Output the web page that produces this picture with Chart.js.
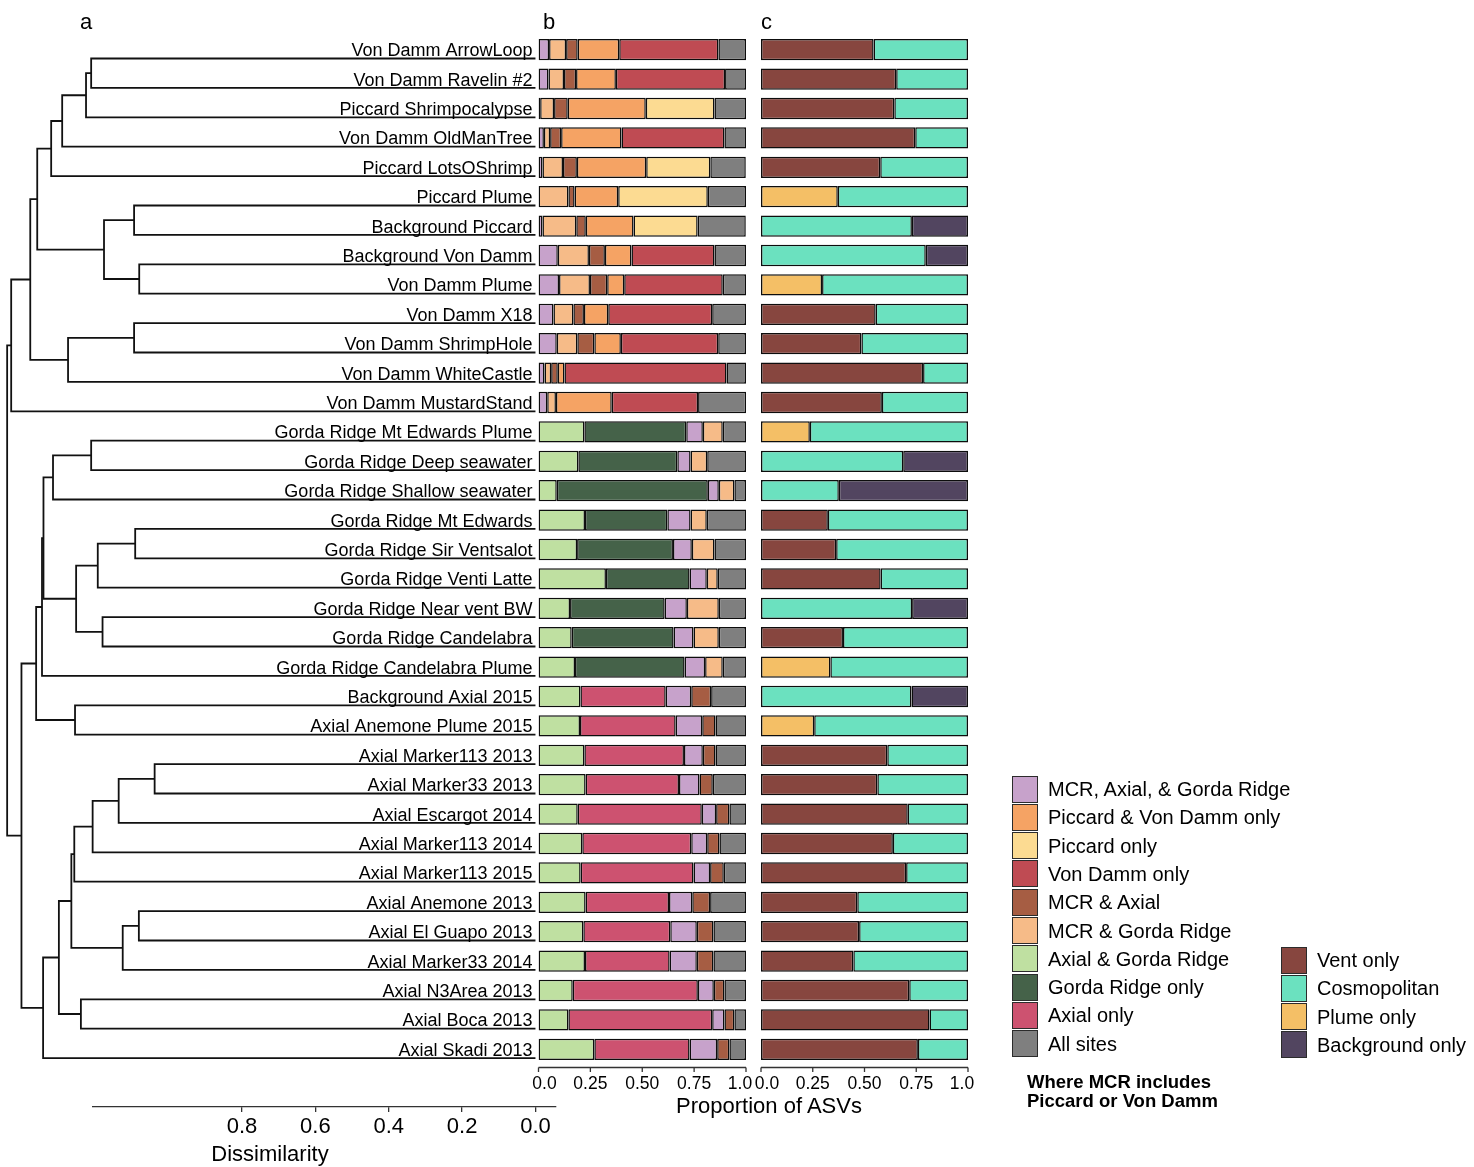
<!DOCTYPE html>
<html>
<head>
<meta charset="utf-8">
<script src="https://cdn.jsdelivr.net/npm/chart.js"></script>
<style>
  body { margin: 0; background: #fff; }
  #fig { position: relative; width: 1474px; height: 1167px; overflow: hidden;
         font-family: 'Liberation Sans', Arial, Helvetica, sans-serif; color: #000; }
  #fig canvas { position: absolute; left: 0; top: 0; }
  .txt { position: absolute; white-space: nowrap; }
  .key { position: absolute; width: 26px; height: 27px; box-sizing: border-box; border: 1.5px solid #2b2b2b; }
</style>
</head>
<body>
<div id="fig">
  <canvas id="treeChart" width="1474" height="1167" style="width:1474px;height:1167px"></canvas>
  <canvas id="sharedChart" width="1474" height="1167" style="width:1474px;height:1167px"></canvas>
  <canvas id="habitatChart" width="1474" height="1167" style="width:1474px;height:1167px"></canvas>
</div>
<script>
// sample order, top to bottom (same as dendrogram leaves)
const sites = [
  'Von Damm ArrowLoop', 'Von Damm Ravelin #2', 'Piccard Shrimpocalypse', 'Von Damm OldManTree',
  'Piccard LotsOShrimp', 'Piccard Plume', 'Background Piccard', 'Background Von Damm',
  'Von Damm Plume', 'Von Damm X18', 'Von Damm ShrimpHole', 'Von Damm WhiteCastle',
  'Von Damm MustardStand', 'Gorda Ridge Mt Edwards Plume', 'Gorda Ridge Deep seawater',
  'Gorda Ridge Shallow seawater', 'Gorda Ridge Mt Edwards', 'Gorda Ridge Sir Ventsalot',
  'Gorda Ridge Venti Latte', 'Gorda Ridge Near vent BW', 'Gorda Ridge Candelabra',
  'Gorda Ridge Candelabra Plume', 'Background Axial 2015', 'Axial Anemone Plume 2015',
  'Axial Marker113 2013', 'Axial Marker33 2013', 'Axial Escargot 2014', 'Axial Marker113 2014',
  'Axial Marker113 2015', 'Axial Anemone 2013', 'Axial El Guapo 2013', 'Axial Marker33 2014',
  'Axial N3Area 2013', 'Axial Boca 2013', 'Axial Skadi 2013'
];

// panel b: proportion of ASVs per category (one value per site)
const axialGorda = [0,0,0,0,0,0,0,0,0,0,0,0,0,
  0.221,0.192,0.088,0.224,0.186,0.325,0.152,0.160,0.176,
  0.202,0.200,0.221,0.227,0.189,0.211,0.203,0.227,0.216,0.224,0.165,0.144,0.269];
const gordaOnly = [0,0,0,0,0,0,0,0,0,0,0,0,0,
  0.491,0.477,0.728,0.397,0.462,0.403,0.456,0.491,0.528,
  0,0,0,0,0,0,0,0,0,0,0,0,0];
const axialOnly = [0,0,0,0,0,0,0,0,0,0,0,0,0,
  0,0,0,0,0,0,0,0,0,
  0.411,0.461,0.480,0.450,0.598,0.525,0.544,0.402,0.419,0.408,0.603,0.693,0.459];
const mcrAxialGorda = [0.051,0.048,0.008,0.026,0.019,0,0.019,0.093,0.099,0.072,0.088,0.029,0.042,
  0.080,0.064,0.053,0.112,0.091,0.083,0.107,0.096,0.099,
  0.123,0.128,0.091,0.099,0.069,0.077,0.080,0.112,0.128,0.131,0.077,0.059,0.133];
const mcrGorda = [0.082,0.075,0.067,0.030,0.099,0.144,0.163,0.150,0.149,0.096,0.099,0.032,0.042,
  0.096,0.080,0.075,0.078,0.109,0.053,0.154,0.122,0.085,
  0,0,0,0,0,0,0,0,0,0,0,0,0];
const mcrAxial = [0.056,0.058,0.066,0.053,0.067,0.030,0.046,0.077,0.083,0.051,0.082,0.032,0,
  0,0,0,0,0,0,0,0,0,
  0.096,0.064,0.061,0.064,0.064,0.059,0.066,0.086,0.080,0.080,0.051,0.048,0.059];
const piccardVonDamm = [0.200,0.192,0.376,0.291,0.334,0.210,0.230,0.128,0.082,0.117,0.128,0.032,0.269,
  0,0,0,0,0,0,0,0,0,
  0,0,0,0,0,0,0,0,0,0,0,0,0];
const piccardOnly = [0,0,0.331,0,0.309,0.432,0.309,0,0,0,0,0,0,
  0,0,0,0,0,0,0,0,0,
  0,0,0,0,0,0,0,0,0,0,0,0,0];
const vonDammOnly = [0.478,0.526,0,0.496,0,0,0,0.400,0.475,0.501,0.469,0.781,0.416,
  0,0,0,0,0,0,0,0,0,
  0,0,0,0,0,0,0,0,0,0,0,0,0];
const allSites = [0.133,0.101,0.152,0.104,0.171,0.184,0.232,0.152,0.112,0.163,0.134,0.094,0.232,
  0.112,0.187,0.056,0.189,0.152,0.136,0.131,0.131,0.112,
  0.168,0.147,0.147,0.160,0.080,0.128,0.107,0.173,0.157,0.157,0.104,0.056,0.080];

// panel c: habitat distribution
const ventOnly = [0.544,0.653,0.644,0.745,0.576,0,0,0,0,0.554,0.485,0.783,0.584,
  0,0,0,0.323,0.363,0.578,0,0.396,0,
  0,0,0.610,0.562,0.709,0.637,0.701,0.465,0.474,0.446,0.716,0.814,0.758];
const plumeOnly = [0,0,0,0,0,0.371,0,0,0.295,0,0,0,0,
  0.236,0,0,0,0,0,0,0,0.335,
  0,0.257,0,0,0,0,0,0,0,0,0,0,0];
const cosmopolitan = [0.456,0.347,0.356,0.255,0.424,0.629,0.729,0.796,0.705,0.446,0.515,0.217,0.416,
  0.764,0.687,0.376,0.677,0.637,0.422,0.730,0.604,0.665,
  0.727,0.743,0.390,0.438,0.291,0.363,0.299,0.535,0.526,0.554,0.284,0.186,0.242];
const backgroundOnly = [0,0,0,0,0,0,0.271,0.204,0,0,0,0,0,
  0,0.313,0.624,0,0,0,0.270,0,0,
  0.273,0,0,0,0,0,0,0,0,0,0,0,0];

// dendrogram: hclust style merges (negative = leaf number, positive = earlier merge)
const treeMerges = [
  [-1,-2], [1,-3], [2,-4], [3,-5], [-6,-7], [-8,-9], [5,6], [4,7], [-10,-11], [9,-12],
  [8,10], [11,-13], [-14,-15], [13,-16], [-17,-18], [15,-19], [-20,-21], [16,17], [14,18], [19,-22],
  [-23,-24], [20,21], [-25,-26], [23,-27], [24,-28], [25,-29], [-30,-31], [27,-32], [26,28], [-33,-34],
  [29,30], [31,-35], [22,32], [12,33]
];
const treeHeights = [
  1.211, 1.225, 1.290, 1.320, 1.094, 1.080, 1.176, 1.358, 1.094, 1.274,
  1.377, 1.429, 1.211, 1.315, 1.091, 1.193, 1.180, 1.252, 1.341, 1.345,
  1.255, 1.361, 1.038, 1.136, 1.207, 1.257, 1.081, 1.125, 1.265, 1.239,
  1.299, 1.342, 1.401, 1.440
];

const dissTicks = [0, 0.2, 0.4, 0.6, 0.8];
const propTicks = [0, 0.25, 0.5, 0.75, 1];
const propTickLabels = ['0.0', '0.25', '0.50', '0.75', '1.0'];

const sharedLegend = ['MCR, Axial, & Gorda Ridge', 'Piccard & Von Damm only', 'Piccard only', 'Von Damm only',
  'MCR & Axial', 'MCR & Gorda Ridge', 'Axial & Gorda Ridge', 'Gorda Ridge only', 'Axial only', 'All sites'];
const habitatLegend = ['Vent only', 'Cosmopolitan', 'Plume only', 'Background only'];

const palette = {
  'MCR, Axial, & Gorda Ridge': '#c7a2cb',
  'Piccard & Von Damm only': '#f5a364',
  'Piccard only': '#fcdb92',
  'Von Damm only': '#bf4b53',
  'MCR & Axial': '#a65d43',
  'MCR & Gorda Ridge': '#f6bb88',
  'Axial & Gorda Ridge': '#bfe0a1',
  'Gorda Ridge only': '#456249',
  'Axial only': '#cd5270',
  'All sites': '#7f7f7f',
  'Vent only': '#87463f',
  'Cosmopolitan': '#6be1bf',
  'Plume only': '#f4bf66',
  'Background only': '#524560'
};

// left to right stacking order
const sharedSeries = [
  ['Axial & Gorda Ridge', axialGorda], ['Gorda Ridge only', gordaOnly], ['Axial only', axialOnly],
  ['MCR, Axial, & Gorda Ridge', mcrAxialGorda], ['MCR & Gorda Ridge', mcrGorda], ['MCR & Axial', mcrAxial],
  ['Piccard & Von Damm only', piccardVonDamm], ['Piccard only', piccardOnly], ['Von Damm only', vonDammOnly],
  ['All sites', allSites]
];
const habitatSeries = [
  ['Vent only', ventOnly], ['Plume only', plumeOnly], ['Cosmopolitan', cosmopolitan], ['Background only', backgroundOnly]
];

// layout
const W = 1474, H = 1167;
const FONT = "'Liberation Sans', Arial, Helvetica, sans-serif";
const plotTop = 35, plotBottom = 1064;
const rowPx = (plotBottom - plotTop) / sites.length;
const treeAxisY = 1107;
const leafShift = 0.3;   // leaf lines sit just under the labels

// ---- dendrogram ----
const nodeY = [];
function nodePos(ref) {
  if (ref < 0) return { y: -ref - 1 + leafShift, h: 0 };
  return { y: nodeY[ref - 1], h: treeHeights[ref - 1] };
}
const treeSets = treeMerges.map((m, k) => {
  const a = nodePos(m[0]), b = nodePos(m[1]);
  const h = treeHeights[k];
  nodeY[k] = (a.y + b.y) / 2;
  return {
    data: [{ x: a.h, y: a.y }, { x: h, y: a.y }, { x: h, y: b.y }, { x: b.h, y: b.y }],
    showLine: true, borderColor: '#111', borderWidth: 1.8, pointRadius: 0, pointHoverRadius: 0,
    tension: 0, clip: false, borderJoinStyle: 'miter', borderCapStyle: 'butt'
  };
});

new Chart(document.getElementById('treeChart'), {
  type: 'scatter',
  data: { datasets: treeSets },
  options: {
    responsive: false, animation: false, events: [],
    layout: { padding: { left: 93, right: W - 556, top: plotTop, bottom: 0 } },
    plugins: { legend: { display: false }, tooltip: { enabled: false } },
    scales: {
      x: {
        type: 'linear', reverse: true, min: -0.056, max: 1.206,
        afterBuildTicks: s => { s.ticks = dissTicks.map(v => ({ value: v })); },
        afterFit: s => { s.height = H - treeAxisY; },
        grid: { drawOnChartArea: false, drawTicks: true, tickLength: 5, color: '#333', tickColor: '#333', lineWidth: 1.3 },
        border: { display: true, color: '#333', width: 1.3 },
        ticks: { callback: v => v.toFixed(1), font: { size: 22, family: FONT }, color: '#000', padding: 2, maxRotation: 0 }
      },
      y: {
        type: 'linear', reverse: true, display: false,
        min: -0.5, max: -0.5 + (treeAxisY - plotTop) / rowPx
      }
    }
  }
});

// ---- proportion axis drawn on the bar panels' x scale ----
const propAxis = {
  id: 'propAxis',
  afterDraw(chart) {
    const s = chart.scales.x, ctx = chart.ctx;
    const y0 = chart.chartArea.bottom + 3.5;
    ctx.save();
    ctx.strokeStyle = '#333';
    ctx.lineWidth = 1.3;
    ctx.beginPath();
    ctx.moveTo(s.getPixelForValue(0), y0);
    ctx.lineTo(s.getPixelForValue(1), y0);
    propTicks.forEach(v => {
      const px = s.getPixelForValue(v);
      ctx.moveTo(px, y0);
      ctx.lineTo(px, y0 + 4.5);
    });
    ctx.stroke();
    ctx.fillStyle = '#000';
    ctx.font = '17.5px ' + FONT;
    ctx.textAlign = 'center';
    ctx.textBaseline = 'alphabetic';
    propTicks.forEach((v, i) => {
      let px = s.getPixelForValue(v);
      if (i === 0) px += 6;
      if (i === propTicks.length - 1) px -= 6;
      ctx.fillText(propTickLabels[i], px, y0 + 21.5);
    });
    ctx.restore();
  }
};

function barSets(series) {
  return series.map(([name, vals]) => ({
    label: name,
    data: vals.map(v => (v > 0 ? v : null)),
    backgroundColor: palette[name],
    borderColor: '#0d0d0d',
    borderWidth: 1.5,
    borderSkipped: false,
    barPercentage: 0.725,
    categoryPercentage: 1
  }));
}

const barX = { display: false, stacked: true, min: 0, max: 1 };

// ---- panel b ----
const bLeft = 538.5, bRight = 746;
new Chart(document.getElementById('sharedChart'), {
  type: 'bar',
  data: { labels: sites, datasets: barSets(sharedSeries) },
  options: {
    indexAxis: 'y', responsive: false, animation: false, events: [],
    layout: { padding: { left: 0, right: W - bRight, top: plotTop, bottom: H - plotBottom } },
    plugins: { legend: { display: false }, tooltip: { enabled: false } },
    scales: {
      x: barX,
      y: {
        stacked: true,
        afterFit: s => { s.width = bLeft; },
        grid: { display: false, drawTicks: false },
        border: { display: false },
        ticks: { font: { size: 18, family: FONT }, color: '#000', padding: 6, autoSkip: false, labelOffset: 1.5 }
      }
    }
  },
  plugins: [propAxis]
});

// ---- panel c ----
const cLeft = 761, cRight = 968;
new Chart(document.getElementById('habitatChart'), {
  type: 'bar',
  data: { labels: sites, datasets: barSets(habitatSeries) },
  options: {
    indexAxis: 'y', responsive: false, animation: false, events: [],
    layout: { padding: { left: cLeft, right: W - cRight, top: plotTop, bottom: H - plotBottom } },
    plugins: { legend: { display: false }, tooltip: { enabled: false } },
    scales: {
      x: barX,
      y: { stacked: true, display: false }
    }
  },
  plugins: [propAxis]
});

// ---- text and legends ----
const fig = document.getElementById('fig');
function addText(str, x, baseline, size, opts) {
  opts = opts || {};
  const d = document.createElement('div');
  d.className = 'txt';
  d.textContent = str;
  d.style.fontSize = size + 'px';
  d.style.lineHeight = size + 'px';
  d.style.top = (baseline - 0.8465 * size) + 'px';
  d.style.left = x + 'px';
  if (opts.center) d.style.transform = 'translateX(-50%)';
  if (opts.bold) d.style.fontWeight = 'bold';
  fig.appendChild(d);
}
function addKey(color, x, cy) {
  const k = document.createElement('div');
  k.className = 'key';
  k.style.left = x + 'px';
  k.style.top = (cy - 13.5) + 'px';
  k.style.background = color;
  fig.appendChild(k);
}

addText('a', 80, 30, 22);
addText('b', 543, 30, 22);
addText('c', 761, 30, 22);
addText('Proportion of ASVs', 769, 1114, 22, { center: true });
addText('Dissimilarity', 270, 1162, 22, { center: true });

sharedLegend.forEach((name, i) => {
  const cy = 789 + i * 28.3;
  addKey(palette[name], 1012, cy);
  addText(name, 1048, cy + 7, 20);
});
habitatLegend.forEach((name, i) => {
  const cy = 960 + i * 28.3;
  addKey(palette[name], 1281, cy);
  addText(name, 1317, cy + 7, 20);
});
addText('Where MCR includes', 1027, 1088.5, 18.5, { bold: true });
addText('Piccard or Von Damm', 1027, 1107.5, 18.5, { bold: true });
</script>
</body>
</html>
